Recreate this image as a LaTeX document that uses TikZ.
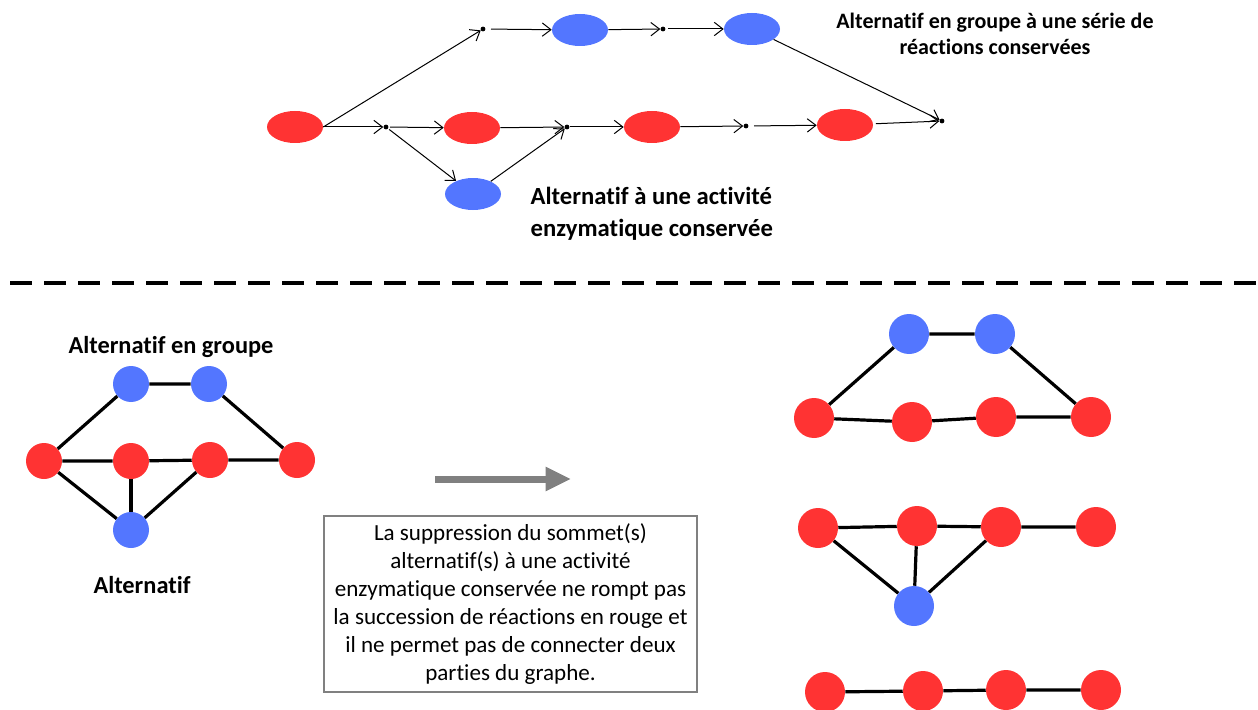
\documentclass[tikz,border=0pt]{standalone}
\usepackage{fontspec}
\setmainfont{Carlito}[Ligatures=NoCommon]
\usepackage{xcolor}
\usetikzlibrary{arrows.meta, positioning, calc, shapes.geometric}
\definecolor{rednode}{RGB}{255,51,51}
\definecolor{bluenode}{RGB}{83,118,255}
\definecolor{boxgray}{RGB}{128,128,128}

\begin{document}
\begin{tikzpicture}[
  x=0.75pt, y=-0.75pt,
  rx/.style={ellipse, fill=rednode, inner sep=0pt, minimum width=42pt, minimum height=24pt},
  bx/.style={ellipse, fill=bluenode, inner sep=0pt, minimum width=42pt, minimum height=24pt},
  pt/.style={circle, fill=black, inner sep=0pt, minimum size=3.6pt},
  rv/.style={circle, fill=rednode, inner sep=0pt, minimum size=27pt},
  bv/.style={circle, fill=bluenode, inner sep=0pt, minimum size=27pt},
  rw/.style={circle, fill=rednode, inner sep=0pt, minimum size=30pt},
  bw/.style={circle, fill=bluenode, inner sep=0pt, minimum size=30pt},
  arr/.style={-{Straight Barb[length=6.5pt, width=10pt]}, black, line width=0.75pt},
  link/.style={black, line width=2.4pt},
  lbl/.style={font=\bfseries\fontsize{16.5}{19.5}\selectfont, align=center},
  note/.style={draw=boxgray, line width=1.5pt, align=center, inner sep=0pt,
    minimum width=279.75pt, minimum height=132pt, font=\fontsize{17.3}{21}\selectfont}
]
\useasboundingbox (0,0) rectangle (1258,710);
% top: reaction paths
\node[rx] (r0) at (295,127) {};
\node[pt] (p1) at (386,127) {};
\node[rx] (r1) at (472,128) {};
\node[bx] (b0) at (473,194) {};
\node[pt] (p2) at (567,127) {};
\node[rx] (r2) at (652,127) {};
\node[pt] (p3) at (746,126) {};
\node[rx] (r3) at (845,125) {};
\node[pt] (p4) at (942,121) {};
\node[pt] (p5) at (483,29) {};
\node[bx] (b1) at (580,30) {};
\node[pt] (p6) at (663,29) {};
\node[bx] (b2) at (752,29) {};
\draw[arr] (r0) -- (p1);
\draw[arr] (r0.east) -- (p5);
\draw[arr, shorten <=1pt] (p1) -- (r1);
\draw[arr, shorten <=1pt] (p1) -- (b0);
\draw[arr] (b0) -- (p2);
\draw[arr] (r1) -- (p2);
\draw[arr] (p2) -- (r2);
\draw[arr] (r2) -- (p3);
\draw[arr, shorten <=4pt] (p3) -- (r3);
\draw[arr, shorten <=2pt] (r3) -- (p4);
\draw[arr, shorten <=4pt] (p5) -- (b1);
\draw[arr] (b1) -- (p6);
\draw[arr, shorten <=2pt] (p6) -- (b2);
\draw[arr] (b2) -- (p4);
\node[lbl] (grp) at (995,34) {Alternatif en groupe à une série de\\réactions conservées};
\node[lbl, font=\bfseries\fontsize{18.5}{24}\selectfont, align=left, anchor=west] (enz) at (526,214) {Alternatif à une activité\\enzymatique conservée};
% separator
\draw[line width=3pt, dash pattern=on 16.5pt off 9pt] (10,283) -- (1258,283);
% bottom left graph
\node[rv] (a1) at (44,461) {};
\node[rv] (a2) at (131,461) {};
\node[rv] (a3) at (210,460) {};
\node[rv] (a4) at (297,460) {};
\node[bv] (u1) at (131,384) {};
\node[bv] (u2) at (209,384) {};
\node[bv] (u3) at (131,530) {};
\draw[link] (a1) -- (u1) -- (u2) -- (a4);
\draw[link] (a1) -- (a2) -- (a3) -- (a4);
\draw[link] (a1) -- (u3);
\draw[link] (a2) -- (u3);
\draw[link] (a3) -- (u3);
\node[lbl, font=\bfseries\fontsize{18.3}{20}\selectfont] (tgrp) at (171,347) {Alternatif en groupe};
\node[lbl, font=\bfseries\fontsize{18.3}{20}\selectfont] (talt) at (142,585) {Alternatif};
% big arrow and note
\coordinate (g0) at (435,479);
\coordinate (g1) at (571,479);
\draw[boxgray, line width=5.25pt, -{Triangle[length=19pt, width=17pt]}] (g0) -- (g1);
\node[note] (box) at (510.5,604) {La suppression du sommet(s)\\alternatif(s) à une activité\\enzymatique conservée ne rompt pas\\la succession de réactions en rouge et\\il ne permet pas de connecter deux\\parties du graphe.};
% right graphs
\node[bw] (c1) at (909,334) {};
\node[bw] (c2) at (995,334) {};
\node[rw] (c3) at (814,418) {};
\node[rw] (c4) at (912,422) {};
\node[rw] (c5) at (996,417) {};
\node[rw] (c6) at (1091,417) {};
\draw[link] (c3) -- (c1) -- (c2) -- (c6);
\draw[link] (c3) -- (c4) -- (c5) -- (c6);
\node[rw] (e1) at (818,528) {};
\node[rw] (e2) at (917,526) {};
\node[rw] (e3) at (1001,527) {};
\node[rw] (e4) at (1096,527) {};
\node[bw] (e5) at (914,606) {};
\draw[link] (e1) -- (e2) -- (e3) -- (e4);
\draw[link] (e1) -- (e5);
\draw[link] (e2) -- (e5);
\draw[link] (e3) -- (e5);
\node[rw] (f1) at (825,692) {};
\node[rw] (f2) at (923,691) {};
\node[rw] (f3) at (1006,690) {};
\node[rw] (f4) at (1101,690) {};
\draw[link] (f1) -- (f2) -- (f3) -- (f4);
\end{tikzpicture}
\end{document}
